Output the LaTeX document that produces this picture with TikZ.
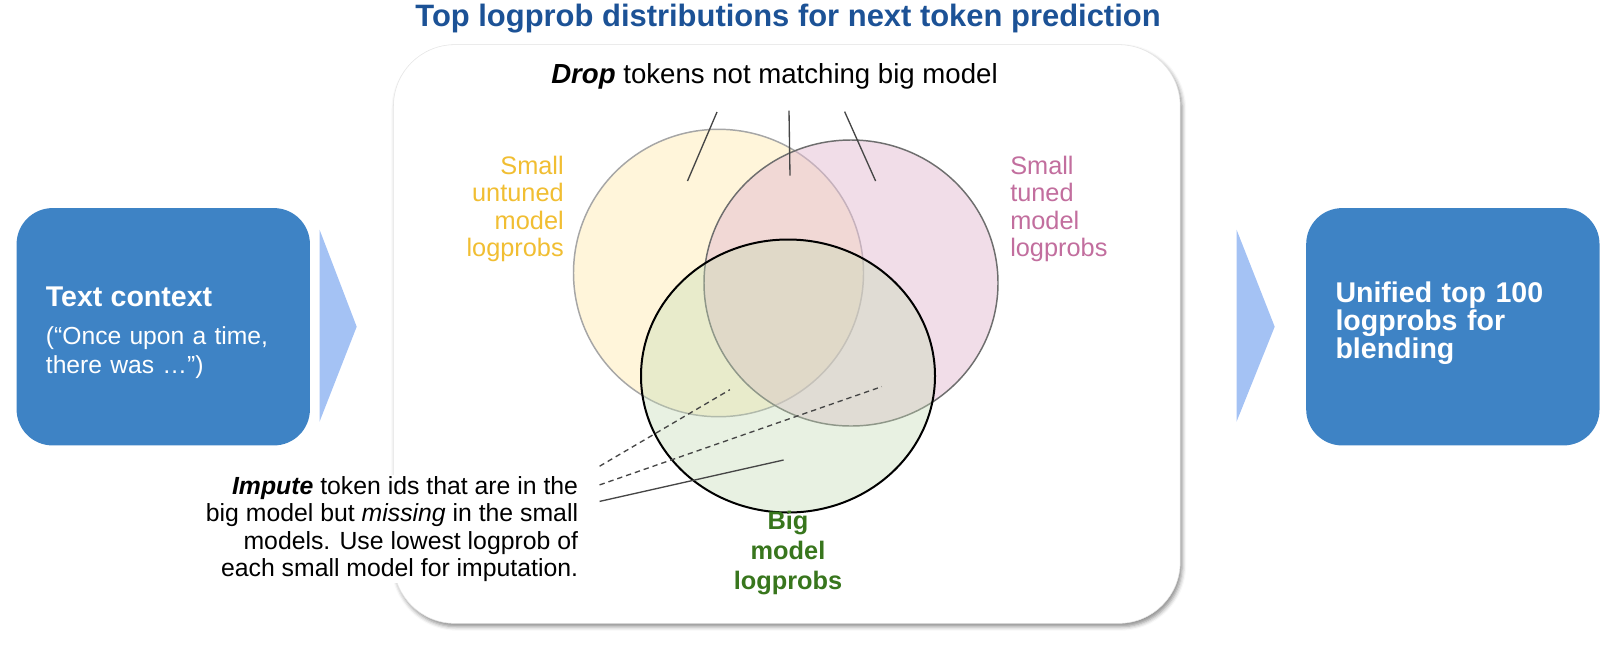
\documentclass[tikz,border=0pt]{standalone}
\usepackage{fontspec}
\setmainfont{Liberation Sans}
\usetikzlibrary{shadows.blur}

\definecolor{ctxblue}{RGB}{62,131,197}
\definecolor{chevblue}{RGB}{164,194,244}
\definecolor{titleblue}{RGB}{28,82,150}
\definecolor{untunedfill}{RGB}{255,245,218}
\definecolor{untunedtxt}{RGB}{241,190,50}
\definecolor{tunedfill}{RGB}{228,188,210}
\definecolor{tunedtxt}{RGB}{194,110,158}
\definecolor{bigfill}{RGB}{197,220,181}
\definecolor{bigtxt}{RGB}{56,118,29}
\definecolor{leadgrey}{RGB}{70,70,70}

\begin{document}
\begin{tikzpicture}[x=0.75pt,y=0.75pt,yscale=-1,xscale=1,
    bluebox/.style={fill=ctxblue, rounded corners=27pt, minimum width=220pt, minimum height=178pt},
    boxtxt/.style={inner xsep=0pt, text width=176pt, align=left, text=white},
    chevron/.style={fill=chevblue, draw=none},
    panel/.style={fill=white, draw=black!10, rounded corners=46pt, minimum width=590pt, minimum height=434pt,
      blur shadow={shadow xshift=1.5pt, shadow yshift=-2.5pt, shadow blur radius=3pt, shadow opacity=45}},
    leader/.style={draw=leadgrey, line width=1pt},
    dashleader/.style={leader, dash pattern=on 4pt off 3pt},
    venntxt/.style={font=\fontsize{19}{20.7}\selectfont, inner sep=0pt},
    note/.style={font=\fontsize{20.7}{20.4}\selectfont, text=black},
  ]
        \useasboundingbox (0,0) rectangle (1621,644);

        %Rounded Rect: panel
        \node[panel] (frame) at (786.8,334) {};
        %Text: title
        \node[font=\fontsize{23.2}{26}\selectfont\bfseries, text=titleblue] (ttl) at (788,19) {Top logprob distributions for next token prediction};

        %Rounded Rect: input
        \node[bluebox] (ctx) at (163.25,326.75) {};
        \node[boxtxt, font=\fontsize{18.5}{21.75}\selectfont] (ctx-txt) at (163.25,333) {{\fontsize{21.4}{24}\selectfont\bfseries Text context}\\[7pt]
          (“Once upon a time,\\ there was …”)};
        %Rounded Rect: output
        \node[bluebox] (out) at (1452.85,326.75) {};
        \node[boxtxt, font=\fontsize{21.4}{20.9}\selectfont\bfseries] (out-txt) at (1452.85,323.5) {Unified top 100\\ logprobs for\\ blending};

        %Shape: chevrons
        \fill[chevron] (319.5,229.5) -- (356.7,326.7) -- (319.5,421.8) -- cycle ;
        \fill[chevron] (1236.5,229.5) -- (1274.7,326.7) -- (1236.5,421.8) -- cycle ;

        %Shape: Ellipse (small untuned)
        \draw [draw={rgb, 255:red, 166; green, 166; blue, 166 }, line width=1.1pt, fill=untunedfill] (718.5,273) ellipse [x radius=145, y radius=143.7] ;
        %Shape: Ellipse (small tuned)
        \fill [tunedfill, fill opacity=0.5] (851,283) ellipse [x radius=147, y radius=143] ;
        \draw [draw={rgb, 255:red, 110; green, 110; blue, 110 }, line width=1.1pt] (851,283) ellipse [x radius=147, y radius=143] ;
        %Shape: Ellipse (big)
        \fill [bigfill, fill opacity=0.38] (788,376) ellipse [x radius=147, y radius=136.5] ;
        \draw [black, line width=1.5pt] (788,376) ellipse [x radius=147, y radius=136.5] ;

        %Text: set labels
        \node[venntxt, text=untunedtxt, align=right, anchor=east] (lbl-untuned) at (564,209) {Small\\ untuned\\ model\\ logprobs};
        \node[venntxt, text=tunedtxt, align=left, anchor=west] (lbl-tuned) at (1010,209) {Small\\ tuned\\ model\\ logprobs};
        \node[venntxt, text=bigtxt, align=center, font=\fontsize{19}{22.5}\selectfont\bfseries] (lbl-big) at (788,553) {Big\\ model\\ logprobs};

        %Text: drop note
        \node[note] (drop) at (774.5,76.5) {\textbf{\textit{Drop}} tokens not matching big model};
        \coordinate (drop-l) at (717,112);
        \coordinate (drop-m) at (789,110.6);
        \coordinate (drop-r) at (844.6,111.6);
        \coordinate (in-untuned) at (687.5,181);
        \coordinate (in-both) at (790,175.7);
        \coordinate (in-tuned) at (875.6,181);
        %Straight Lines
        \draw[leader] (drop-l) -- (in-untuned) ;
        \draw[leader] (drop-m) -- (in-both) ;
        \draw[leader] (drop-r) -- (in-tuned) ;

        %Text: impute note
        \node[note, font=\fontsize{18.6}{20.4}\selectfont, align=right, anchor=east, fill=white, inner xsep=2pt, inner ysep=1pt] (impute) at (581,529) {\textbf{\textit{Impute}} token ids that are in the\\
          big model but \textit{missing} in the small\\ models. Use lowest logprob of\\ each small model for imputation.};
        \coordinate (imp-a) at (599.6,466.2);
        \coordinate (imp-b) at (599.6,484.9);
        \coordinate (imp-c) at (599.6,501.4);
        \coordinate (miss-untuned) at (729.9,389.7);
        \coordinate (miss-tuned) at (881.8,386.6);
        \coordinate (miss-big) at (783.6,460);
        %Straight Lines
        \draw[dashleader] (imp-a) -- (miss-untuned) ;
        \draw[dashleader] (imp-b) -- (miss-tuned) ;
        \draw[leader] (imp-c) -- (miss-big) ;
\end{tikzpicture}
\end{document}
